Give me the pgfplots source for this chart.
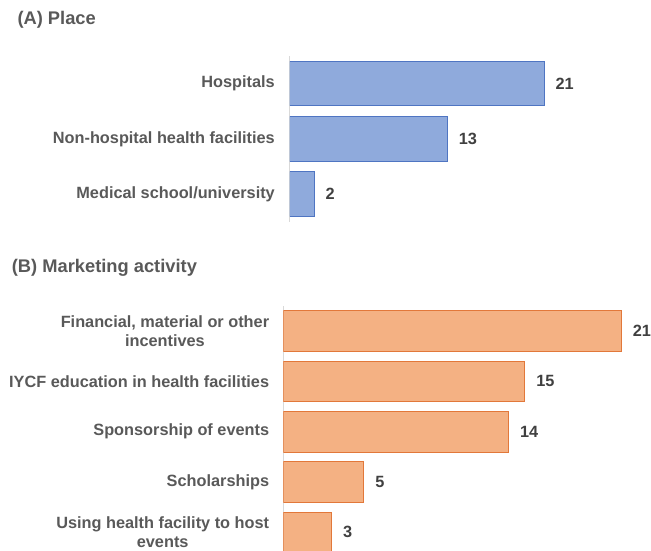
\documentclass[border=0pt]{standalone}
\usepackage{fontspec}
\setmainfont{Liberation Sans}
\usepackage{pgfplots}
\pgfplotsset{compat=1.18}
\definecolor{labelgray}{HTML}{595959}
\definecolor{valgray}{HTML}{404040}
\definecolor{bluefill}{HTML}{8FAADC}
\definecolor{blueedge}{HTML}{4F75C2}
\definecolor{orangefill}{HTML}{F4B183}
\definecolor{orangeedge}{HTML}{E2783A}
\definecolor{axisgray}{HTML}{D9D9D9}
\begin{document}
\begin{tikzpicture}[x=1pt,y=1pt]
\useasboundingbox (0,0) rectangle (651,-551);
\node[anchor=base west, inner sep=0pt, font=\fontsize{18.3}{22}\selectfont\bfseries, text=labelgray] at (17.3,-25) {(A) Place};
\node[anchor=base west, inner sep=0pt, font=\fontsize{18.3}{22}\selectfont\bfseries, text=labelgray] at (11.7,-272.5) {(B) Marketing activity};
\begin{axis}[
  at={(290pt,-56pt)}, anchor=north west,
  scale only axis, width=361pt, height=165.7pt,
  xmin=0, xmax=29.83, ymin=-0.5, ymax=2.5, y dir=reverse,
  xbar, bar width=44.3pt,
  axis x line=none, axis y line*=left,
  y axis line style={draw=axisgray, line width=1pt, -},
  ytick={0,1,2},
  yticklabels={Hospitals, Non-hospital health facilities, Medical school/university},
  major tick length=0pt,
  yticklabel style={font=\fontsize{16.3}{18.5}\selectfont\bfseries, text=labelgray, align=center, inner sep=0pt, xshift=-15pt},
  point meta=x,
  nodes near coords,
  nodes near coords style={font=\fontsize{16.3}{18.5}\selectfont\bfseries, text=valgray, anchor=west, inner sep=0pt, xshift=11pt, /pgf/number format/assume math mode=true},
]
\addplot[fill=bluefill, draw=blueedge, line width=1pt] coordinates {(21,0) (13,1) (2,2)};
\end{axis}
\begin{axis}[
  at={(283.3pt,-306pt)}, anchor=north west,
  scale only axis, width=367.7pt, height=246pt,
  xmin=0, xmax=22.84, ymin=-0.5, ymax=4.39, y dir=reverse,
  xbar, bar width=40.7pt,
  axis x line=none, axis y line*=left,
  y axis line style={draw=axisgray, line width=1pt, -},
  ytick={0,1,2,3,4},
  yticklabels={{Financial, material or other\\incentives}, IYCF education in health facilities, Sponsorship of events, Scholarships, {Using health facility to host\\events}},
  major tick length=0pt,
  yticklabel style={font=\fontsize{16.3}{18.5}\selectfont\bfseries, text=labelgray, align=center, inner sep=0pt, xshift=-14pt},
  point meta=x,
  nodes near coords,
  nodes near coords style={font=\fontsize{16.3}{18.5}\selectfont\bfseries, text=valgray, anchor=west, inner sep=0pt, xshift=11pt, /pgf/number format/assume math mode=true},
]
\addplot[fill=orangefill, draw=orangeedge, line width=1pt] coordinates {(21,0) (15,1) (14,2) (5,3) (3,4)};
\end{axis}
\end{tikzpicture}
\end{document}
